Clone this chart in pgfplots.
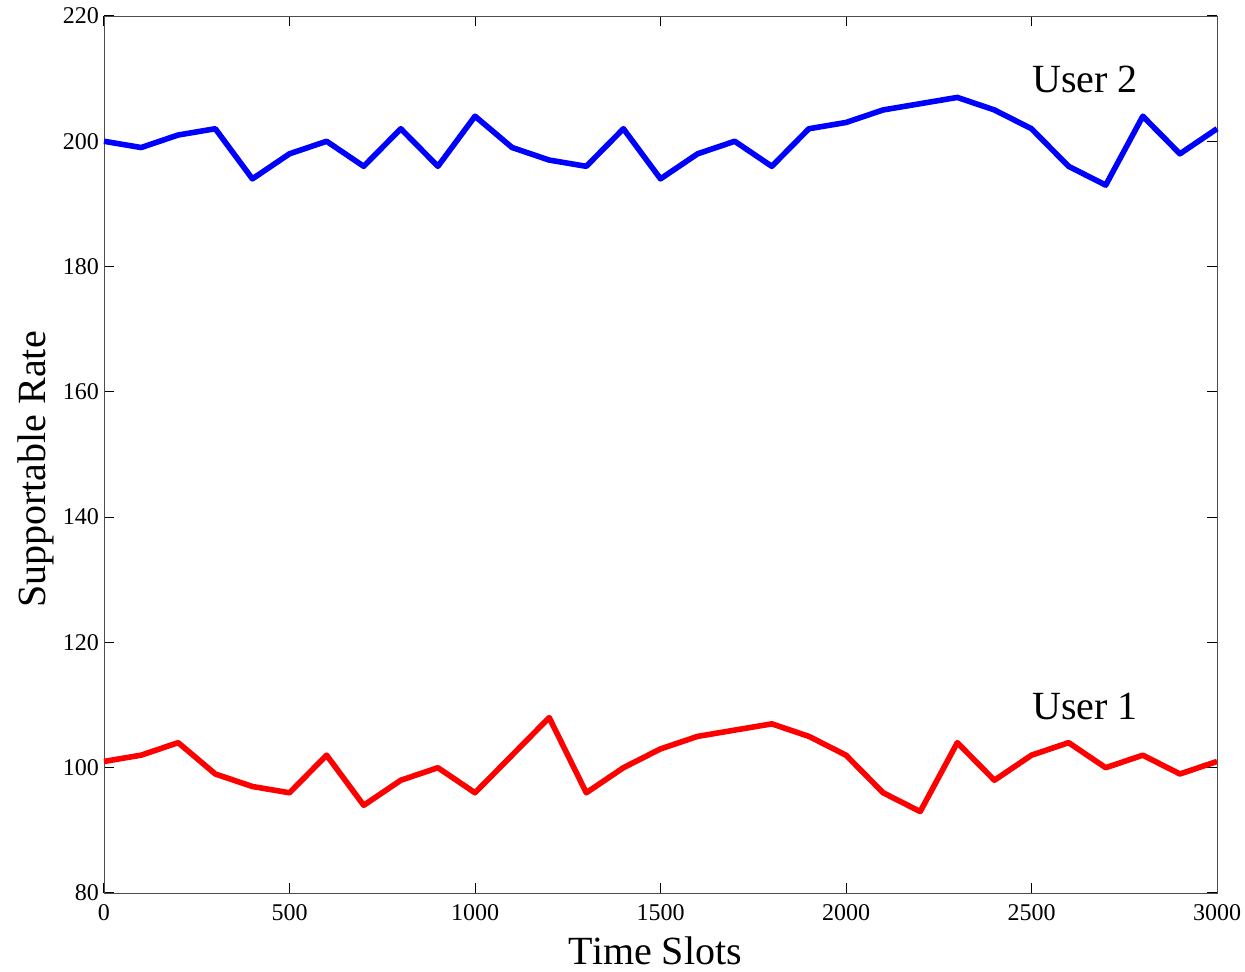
\documentclass[border=0pt]{standalone}
\usepackage{fontspec}
\setmainfont{Liberation Serif}
\usepackage{pgfplots}
\pgfplotsset{compat=1.18}
\usepackage{pgfplotstable}
\pgfplotstableread{
x y
0 200
100 199
200 201
300 202
400 194
500 198
600 200
700 196
800 202
900 196
1000 204
1100 199
1200 197
1300 196
1400 202
1500 194
1600 198
1700 200
1800 196
1900 202
2000 203
2100 205
2200 206
2300 207
2400 205
2500 202
2600 196
2700 193
2800 204
2900 198
3000 202
}\usertwo
\pgfplotstableread{
x y
0 101
100 102
200 104
300 99
400 97
500 96
600 102
700 94
800 98
900 100
1000 96
1100 102
1200 108
1300 96
1400 100
1500 103
1600 105
1700 106
1800 107
1900 105
2000 102
2100 96
2200 93
2300 104
2400 98
2500 102
2600 104
2700 100
2800 102
2900 99
3000 101
}\userone
\begin{document}
\begin{tikzpicture}
\begin{axis}[
  name=ax,
  scale only axis,
  width=556.5pt, height=438.5pt,
  xmin=0, xmax=3000, ymin=80, ymax=220,
  xtick={0,500,...,3000},
  ytick={80,100,...,220},
  tick align=inside,
  major tick length=5pt,
  axis line style={gray!60!black},
  tick style={black, line width=0.5pt},
  /pgf/number format/assume math mode=true,
  /pgf/number format/1000 sep={},
  ticklabel style={font=\fontsize{12}{14}\selectfont},
  xticklabel style={yshift=-2pt},
  yticklabel style={xshift=1pt},
  xlabel={Time Slots},
  ylabel={Supportable Rate},
  every axis x label/.style={at={(axis description cs:0.5,0)}, anchor=center, yshift=-29pt, xshift=-2.5pt, font=\fontsize{20}{24}\selectfont},
  every axis y label/.style={at={(axis description cs:0,0.5)}, xshift=-34pt, yshift=-7.5pt, rotate=90, anchor=center, font=\fontsize{20}{24}\selectfont},
  clip=false,
]
\addplot[blue, line width=2.8pt, line join=round] table[x=x,y=y] {\usertwo};
\addplot[red, line width=2.8pt, line join=round] table[x=x,y=y] {\userone};
\node[font=\fontsize{20}{24}\selectfont] at (axis cs:2644,209.8) {User 2};
\node[font=\fontsize{20}{24}\selectfont] at (axis cs:2644,109.7) {User 1};
\end{axis}
\pgfresetboundingbox
\path ([shift={(-52pt,-39.5pt)}]ax.south west) rectangle ([shift={(14pt,8pt)}]ax.north east);
\end{tikzpicture}
\end{document}
